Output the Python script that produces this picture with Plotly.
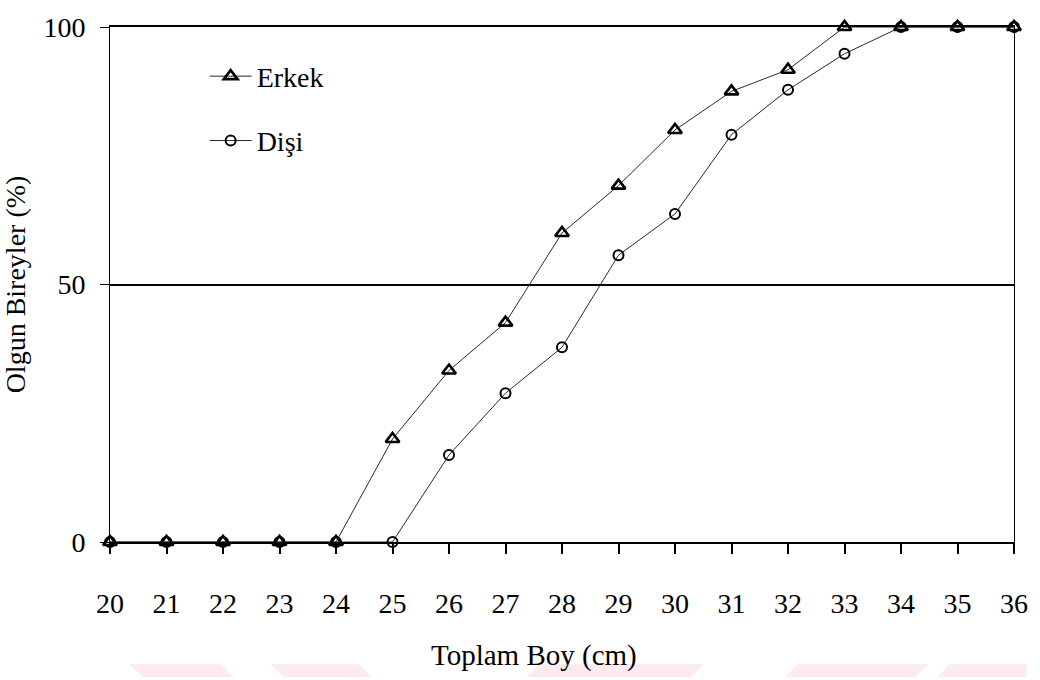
import plotly.graph_objects as go

# Total length classes (cm) and share of mature individuals (%)
boy = [20, 21, 22, 23, 24, 25, 26, 27, 28, 29, 30, 31, 32, 33, 34, 35, 36]
erkek = [0, 0, 0, 0, 0, 20.0, 33.3, 42.6, 60.0, 69.2, 80.0, 87.5, 91.7, 100, 100, 100, 100]
disi = [0, 0, 0, 0, 0, 0, 16.9, 28.9, 37.8, 55.7, 63.7, 79.1, 87.8, 94.8, 100, 100, 100]

x_ticks = boy
y_ticks = [0, 50, 100]
y_labels = ["0", "50", "100"]
x_title = "Toplam Boy (cm)"
y_title = "Olgun Bireyler (%)"

W, H = 1040, 680
ML, MR, MT, MB = 110, 13, 15, 138
FONT = "Liberation Serif, Times New Roman, serif"


def px_to_paper(x, y):
    """Convert page pixel coordinates to paper coordinates."""
    pw = W - ML - MR
    ph = H - MT - MB
    return (x - ML) / pw, (H - MB - y) / ph


def poly_path(points):
    pts = [px_to_paper(x, y) for x, y in points]
    return "M" + " L".join(f"{a:.4f},{b:.4f}" for a, b in pts) + " Z"


fig = go.Figure()

fig.add_trace(go.Scatter(
    x=boy, y=erkek, name="Erkek", mode="lines+markers",
    line=dict(color="#2a2a2a", width=1),
    marker=dict(symbol="triangle-up-open", size=12, color="black",
                line=dict(width=2.6, color="black")),
    cliponaxis=False, legendgroup="e",
))
fig.add_trace(go.Scatter(
    x=boy, y=disi, name="Dişi", mode="lines+markers",
    line=dict(color="#2a2a2a", width=1),
    marker=dict(symbol="circle-open", size=10, color="black",
                line=dict(width=2, color="black")),
    cliponaxis=False, legendgroup="d",
))

# faint watermark band along the bottom edge
band = [
    [(130, 667), (222, 667), (235, 680), (143, 680)],
    [(273, 667), (362, 667), (375, 680), (286, 680)],
    [(545, 667), (712, 667), (699, 680), (532, 680)],
    [(808, 667), (940, 667), (927, 680), (795, 680)],
    [(962, 667), (1040, 667), (1040, 680), (949, 680)],
]
shapes = [
    dict(type="path", xref="paper", yref="paper", path=poly_path(p),
         fillcolor="#fdeaee", line=dict(width=0), layer="below")
    for p in band
]

tx, ty = px_to_paper(540, 658)
annotations = [
    dict(text=x_title, xref="paper", yref="paper", x=tx, y=ty,
         xanchor="center", yanchor="middle", showarrow=False,
         font=dict(family=FONT, size=29, color="black")),
]

fig.update_layout(
    width=W, height=H,
    margin=dict(l=ML, r=MR, t=MT, b=MB),
    paper_bgcolor="white", plot_bgcolor="white",
    font=dict(family=FONT, size=28, color="black"),
    shapes=shapes,
    annotations=annotations,
    showlegend=True,
    legend=dict(
        x=px_to_paper(206, 0)[0], y=px_to_paper(0, 40)[1],
        xanchor="left", yanchor="top",
        bgcolor="rgba(0,0,0,0)", borderwidth=0,
        font=dict(family=FONT, size=28, color="black"),
        traceorder="grouped", tracegroupgap=25, itemwidth=42,
    ),
    xaxis=dict(
        range=[20, 36], tickmode="array", tickvals=x_ticks,
        ticks="outside", ticklen=10, tickwidth=2, tickcolor="black",
        showline=True, linewidth=2, linecolor="black", mirror=True,
        showgrid=False, zeroline=False,
        ticklabelstandoff=25, ticklabeloverflow="allow",
        tickfont=dict(family=FONT, size=28),
    ),
    yaxis=dict(
        range=[0, 100], tickmode="array", tickvals=y_ticks, ticktext=y_labels,
        ticks="outside", ticklen=9, tickwidth=1, tickcolor="black",
        showline=True, linewidth=1, linecolor="black", mirror=True,
        showgrid=True, gridwidth=2, gridcolor="black", zeroline=False,
        ticklabelstandoff=9, ticklabeloverflow="allow",
        tickfont=dict(family=FONT, size=28),
        title=dict(text=y_title, standoff=10,
                   font=dict(family=FONT, size=28)),
    ),
)

fig.write_html("out.html")
